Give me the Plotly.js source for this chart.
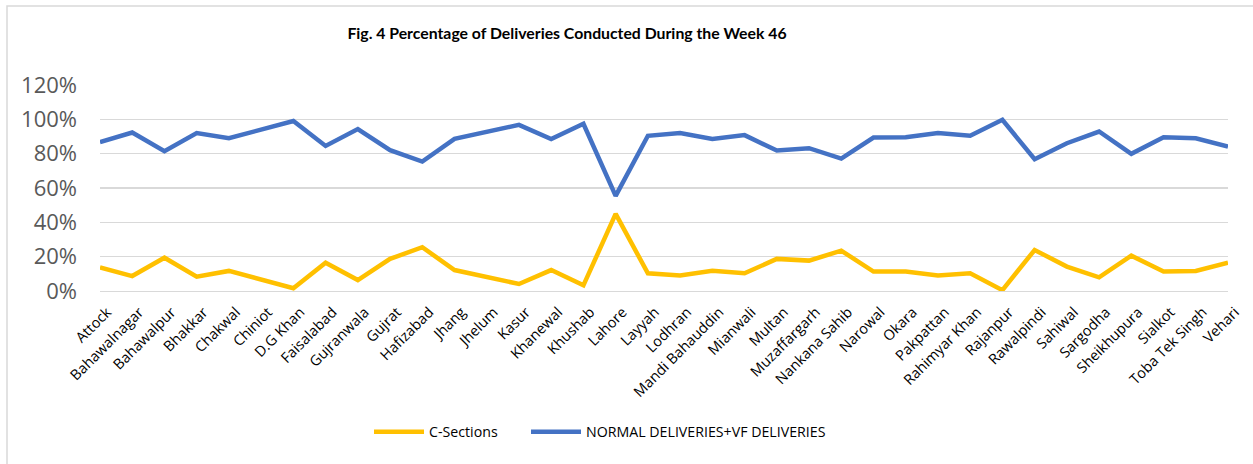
<!DOCTYPE html>
<html>
<head>
<meta charset="utf-8">
<script src="https://cdn.plot.ly/plotly-3.0.1.min.js"></script>
<style>html,body{margin:0;padding:0;background:#fff;}#chart{width:1253px;height:464px;}</style>
</head>
<body>
<div id="chart"></div>
<script>
var districts = ["Attock","Bahawalnagar","Bahawalpur","Bhakkar","Chakwal","Chiniot","D.G Khan","Faisalabad","Gujranwala","Gujrat","Hafizabad","Jhang","Jhelum","Kasur","Khanewal","Khushab","Lahore","Layyah","Lodhran","Mandi Bahauddin","Mianwali","Multan","Muzaffargarh","Nankana Sahib","Narowal","Okara","Pakpattan","Rahimyar Khan","Rajanpur","Rawalpindi","Sahiwal","Sargodha","Sheikhupura","Sialkot","Toba Tek Singh","Vehari"];
var cSections = [0.138,0.087,0.194,0.083,0.117,0.068,0.016,0.165,0.064,0.187,0.255,0.122,0.084,0.041,0.122,0.033,0.449,0.103,0.091,0.118,0.103,0.187,0.177,0.235,0.113,0.113,0.091,0.103,0.005,0.239,0.142,0.080,0.206,0.113,0.117,0.165];
var normalVF = [0.867,0.923,0.815,0.920,0.890,0.940,0.990,0.845,0.943,0.820,0.754,0.886,0.929,0.968,0.885,0.974,0.554,0.904,0.920,0.886,0.908,0.818,0.832,0.771,0.894,0.896,0.920,0.904,0.997,0.768,0.861,0.929,0.799,0.896,0.890,0.841];
var yTicks = [0,0.2,0.4,0.6,0.8,1.0,1.2];
var yTickLabels = ["0%","20%","40%","60%","80%","100%","120%"];

var traces = [
  {x: districts, y: cSections, name: "C-Sections", type: "scatter", mode: "lines",
   line: {color: "#FFC000", width: 4.5}, legend: "legend"},
  {x: districts, y: normalVF, name: "NORMAL DELIVERIES+VF DELIVERIES", type: "scatter", mode: "lines",
   line: {color: "#4472C4", width: 4.5}, legend: "legend2"}
];

var legY = (291 - 432) / 206;
var legendBase = {orientation: "h", xanchor: "left", y: legY, yanchor: "middle",
  font: {family: "Open Sans", size: 14.2, color: "#000"}, itemwidth: 50, bgcolor: "rgba(0,0,0,0)"};

var layout = {
  width: 1253, height: 464,
  margin: {l: 100, r: 25, t: 85, b: 173},
  paper_bgcolor: "#fff", plot_bgcolor: "#fff",
  font: {family: "Open Sans", color: "#000"},
  title: {text: "<b>Fig. 4 Percentage of Deliveries Conducted During the Week 46</b>",
          font: {family: "Lato", size: 15.8, color: "#000"},
          xref: "paper", x: 0.414, xanchor: "center",
          yref: "container", y: 1 - 33/464, yanchor: "middle"},
  xaxis: {type: "category", tickangle: -45, tickfont: {family: "Open Sans", size: 14.5, color: "#000"},
          showgrid: false, showline: true, linecolor: "#d9d9d9", linewidth: 1,
          ticks: "", ticklabelstandoff: 6, ticklabelshift: 7, fixedrange: true},
  yaxis: {range: [0, 1.2], tickvals: yTicks, ticktext: yTickLabels,
          tickfont: {family: "Open Sans", size: 22, color: "#595959"}, gridcolor: "#d9d9d9", gridwidth: 1.2,
          zeroline: false, showline: false, ticks: "", ticklabelstandoff: 22, fixedrange: true},
  showlegend: true,
  legend: Object.assign({}, legendBase, {x: (374 - 100 - 5) / 1128}),
  legend2: Object.assign({}, legendBase, {x: (531 - 100 - 5) / 1128}),
  shapes: [{type: "rect", xref: "paper", yref: "paper",
            x0: (7 - 100) / 1128, x1: (1300 - 100) / 1128,
            y0: (291 - 500) / 206, y1: (291 - 6) / 206,
            line: {color: "#d9d9d9", width: 1.5}, layer: "below"}]
};

Plotly.newPlot("chart", traces, layout, {displayModeBar: false, staticPlot: true});
</script>
</body>
</html>
